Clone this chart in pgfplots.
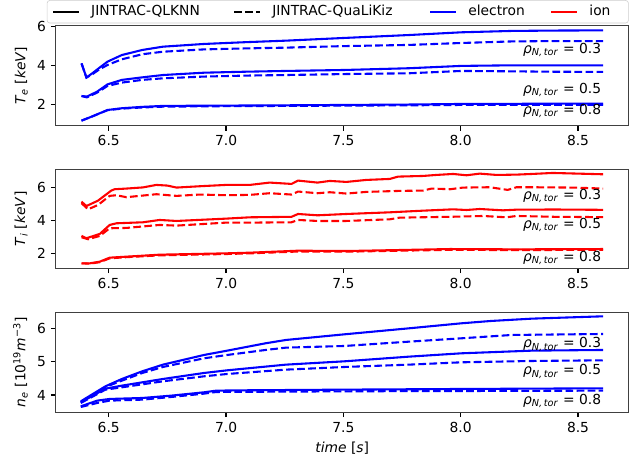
\documentclass[border=0pt]{standalone}
\usepackage{fontspec}
\setmainfont{DejaVu Sans}
\usepackage{pgfplots}
\pgfplotsset{compat=1.18}
\definecolor{mblue}{rgb}{0,0,1}
\definecolor{mred}{rgb}{1,0,0}
\pgfplotsset{
  panel/.style={
    scale only axis, width=5.73in, height=1.0in,
    xmin=6.274, xmax=8.716,
    xtick={6.5,7,7.5,8,8.5}, xticklabels={6.5,7.0,7.5,8.0,8.5},
    tick align=outside, tick pos=left,
    major tick length=3.5bp,
    every tick/.style={black, line width=0.8bp},
    axis line style={black!75, line width=1bp},
    ticklabel style={font=\fontsize{10}{12}\selectfont},
    label style={font=\fontsize{10}{12}\selectfont},
    /pgf/number format/assume math mode=true,
  },
}
\tikzset{
  qlk/.style={line width=1.5bp},
  qlz/.style={line width=1.5bp, dash pattern=on 5.55bp off 2.4bp},
  rho/.style={anchor=east, font=\fontsize{10}{12}\selectfont, inner sep=0pt},
}
\newcommand{\rholab}[1]{\textit{ρ}\textsubscript{\textit{N,\,tor}} = #1}
\begin{document}
\begin{tikzpicture}
\path[use as bounding box] (0,0) rectangle (6.43in,-4.60in);
% ---------------- Panel 1: Te
\begin{axis}[panel, at={(0.557in,-0.257in)}, anchor=north west,
  ymin=0.90, ymax=6.05, ytick={2,4,6}, yticklabels={2,4,6},
  ylabel={\textit{T}\textsubscript{\textit{e}} [\textit{keV}]},
  legend columns=4,
  legend cell align=left,
  legend image code/.code={\draw[#1] (0in,0pt) -- (0.26in,0pt);},
  legend style={at={(1,1)}, anchor=south east, yshift=0.024in,
    draw=black!20, rounded corners=2bp, fill=white,
    inner xsep=0.05in, inner ysep=3.4pt, row sep=0pt,
    /tikz/every odd column/.append style={column sep=0.11in},
    /tikz/every even column/.append style={column sep=0pt},
    nodes={inner sep=0pt, text height=7.5pt, text depth=2pt, font=\fontsize{10}{12}\selectfont}},
]
\addlegendimage{black, qlk}
\addlegendentry{\makebox[1.42in][l]{JINTRAC-QLKNN}}
\addlegendimage{black, qlz}
\addlegendentry{\makebox[1.57in][l]{JINTRAC-QuaLiKiz}}
\addlegendimage{mblue, qlk}
\addlegendentry{\makebox[0.82in][l]{electron}}
\addlegendimage{mred, qlk}
\addlegendentry{\makebox[0.34in][l]{ion}}
% rho 0.3
\addplot[mblue, qlk, forget plot] coordinates {(6.384,4.11) (6.405,3.38) (6.43,3.6) (6.46,3.88) (6.495,4.2) (6.556,4.54) (6.643,4.80) (6.731,4.97) (6.906,5.11) (7.08,5.20) (7.255,5.28) (7.505,5.42) (7.78,5.57) (8.003,5.71) (8.217,5.78) (8.4,5.80) (8.607,5.81)};
\addplot[mblue, qlz, forget plot] coordinates {(6.384,4.11) (6.405,3.38) (6.43,3.55) (6.46,3.8) (6.495,4.03) (6.556,4.32) (6.643,4.58) (6.731,4.71) (6.906,4.83) (7.08,4.88) (7.255,4.92) (7.505,5.0) (7.78,5.06) (8.003,5.16) (8.217,5.24) (8.4,5.26) (8.607,5.26)};
% rho 0.5
\addplot[mblue, qlk, forget plot] coordinates {(6.384,2.43) (6.407,2.40) (6.45,2.65) (6.495,3.03) (6.556,3.26) (6.643,3.39) (6.731,3.51) (6.906,3.63) (7.08,3.68) (7.255,3.72) (7.505,3.77) (7.78,3.86) (8.003,3.98) (8.217,4.01) (8.607,4.01)};
\addplot[mblue, qlz, forget plot] coordinates {(6.384,2.43) (6.407,2.36) (6.45,2.6) (6.495,2.95) (6.556,3.12) (6.643,3.26) (6.731,3.34) (6.906,3.43) (7.08,3.48) (7.255,3.51) (7.505,3.56) (7.78,3.6) (8.003,3.72) (8.217,3.70) (8.4,3.68) (8.607,3.67)};
% rho 0.8
\addplot[mblue, qlk, forget plot] coordinates {(6.384,1.16) (6.434,1.4) (6.495,1.71) (6.556,1.8) (6.643,1.87) (6.731,1.92) (6.906,1.93) (7.255,1.95) (7.78,1.99) (8.003,2.02) (8.607,2.04)};
\addplot[mblue, qlz, forget plot] coordinates {(6.384,1.16) (6.434,1.4) (6.495,1.70) (6.556,1.78) (6.643,1.84) (6.731,1.88) (6.906,1.90) (7.255,1.92) (7.78,1.95) (8.003,1.97) (8.607,1.98)};
\node[rho] at (axis cs:8.6,4.80) {\rholab{0.3}};
\node[rho] at (axis cs:8.6,2.74) {\rholab{0.5}};
\node[rho] at (axis cs:8.6,1.66) {\rholab{0.8}};
\end{axis}
% ---------------- Panel 2: Ti
\begin{axis}[panel, at={(0.557in,-1.693in)}, anchor=north west, height=0.99in,
  ymin=1.12, ymax=7.08, ytick={2,4,6}, yticklabels={2,4,6},
  ylabel={\textit{T}\textsubscript{\textit{i}} [\textit{keV}]},
]
\addplot[mred, qlk, forget plot] coordinates {(6.384,5.13) (6.405,4.87) (6.454,5.19) (6.511,5.8) (6.525,5.88) (6.575,5.92) (6.646,5.99) (6.703,6.14) (6.75,6.1) (6.789,5.98) (6.888,6.06) (7.0,6.14) (7.101,6.14) (7.186,6.28) (7.279,6.2) (7.307,6.4) (7.39,6.28) (7.442,6.38) (7.513,6.32) (7.598,6.44) (7.698,6.5) (7.733,6.64) (7.84,6.68) (7.896,6.74) (7.968,6.8) (8.025,6.72) (8.081,6.82) (8.153,6.74) (8.238,6.76) (8.304,6.8) (8.392,6.86) (8.5,6.82) (8.607,6.78)};
\addplot[mred, qlz, forget plot] coordinates {(6.384,5.04) (6.412,4.67) (6.454,4.93) (6.504,5.48) (6.533,5.52) (6.575,5.4) (6.632,5.48) (6.703,5.58) (6.789,5.48) (6.888,5.56) (7.0,5.52) (7.101,5.54) (7.186,5.64) (7.279,5.56) (7.307,5.74) (7.39,5.64) (7.442,5.7) (7.513,5.62) (7.598,5.72) (7.74,5.78) (7.84,5.8) (7.876,5.92) (7.955,5.88) (8.01,5.98) (8.124,6.0) (8.2,5.84) (8.238,6.0) (8.304,6.0) (8.479,5.98) (8.607,5.92)};
\addplot[mred, qlk, forget plot] coordinates {(6.384,3.07) (6.405,2.93) (6.462,3.19) (6.504,3.73) (6.533,3.83) (6.646,3.89) (6.717,4.03) (6.789,3.97) (7.0,4.11) (7.101,4.19) (7.279,4.22) (7.307,4.39) (7.39,4.31) (7.513,4.39) (7.698,4.49) (7.84,4.59) (7.968,4.67) (8.025,4.63) (8.081,4.69) (8.18,4.61) (8.238,4.65) (8.4,4.66) (8.607,4.64)};
\addplot[mred, qlz, forget plot] coordinates {(6.384,2.99) (6.412,2.87) (6.462,3.07) (6.504,3.53) (6.575,3.55) (6.717,3.73) (6.789,3.69) (7.0,3.87) (7.101,3.87) (7.279,3.89) (7.307,4.03) (7.39,3.97) (7.513,3.97) (7.698,4.07) (7.74,4.17) (7.955,4.22) (8.095,4.27) (8.195,4.19) (8.238,4.27) (8.4,4.22) (8.607,4.2)};
\addplot[mred, qlk, forget plot] coordinates {(6.384,1.42) (6.42,1.42) (6.462,1.52) (6.504,1.76) (6.575,1.82) (6.717,1.94) (7.0,2.02) (7.101,2.06) (7.307,2.18) (7.513,2.16) (7.74,2.22) (7.955,2.28) (8.238,2.26) (8.607,2.28)};
\addplot[mred, qlz, forget plot] coordinates {(6.384,1.42) (6.42,1.40) (6.462,1.49) (6.504,1.72) (6.575,1.79) (6.717,1.90) (7.0,1.98) (7.101,2.02) (7.307,2.13) (7.513,2.12) (7.74,2.18) (7.955,2.23) (8.238,2.22) (8.607,2.23)};
\node[rho] at (axis cs:8.6,5.48) {\rholab{0.3}};
\node[rho] at (axis cs:8.6,3.74) {\rholab{0.5}};
\node[rho] at (axis cs:8.6,1.74) {\rholab{0.8}};
\end{axis}
% ---------------- Panel 3: ne
\begin{axis}[panel, at={(0.557in,-3.123in)}, anchor=north west,
  ymin=3.48, ymax=6.48, ytick={4,5,6}, yticklabels={4,5,6},
  ylabel={\textit{n}\textsubscript{\textit{e}} [10\textsuperscript{19}\textit{m}\textsuperscript{−3}]},
  xlabel={\textit{time} [\textit{s}]},
]
\addplot[mblue, qlk, forget plot] coordinates {(6.381,3.81) (6.486,4.26) (6.556,4.48) (6.643,4.71) (6.731,4.91) (6.906,5.2) (7.005,5.33) (7.168,5.55) (7.255,5.65) (7.505,5.82) (7.78,6.0) (8.003,6.15) (8.129,6.22) (8.304,6.29) (8.607,6.36)};
\addplot[mblue, qlz, forget plot] coordinates {(6.381,3.78) (6.486,4.24) (6.556,4.43) (6.643,4.66) (6.731,4.84) (6.906,5.1) (7.005,5.2) (7.168,5.35) (7.255,5.42) (7.505,5.47) (7.78,5.6) (8.003,5.70) (8.217,5.80) (8.607,5.83)};
\addplot[mblue, qlk, forget plot] coordinates {(6.381,3.78) (6.486,4.19) (6.556,4.28) (6.731,4.48) (6.906,4.66) (7.005,4.74) (7.255,4.91) (7.505,5.01) (7.78,5.15) (8.003,5.25) (8.304,5.33) (8.607,5.35)};
\addplot[mblue, qlz, forget plot] coordinates {(6.381,3.76) (6.486,4.16) (6.556,4.23) (6.731,4.41) (6.906,4.56) (7.005,4.63) (7.255,4.76) (7.505,4.84) (7.78,4.91) (8.003,4.98) (8.304,5.02) (8.607,5.04)};
\addplot[mblue, qlk, forget plot] coordinates {(6.381,3.66) (6.451,3.83) (6.503,3.88) (6.643,3.91) (6.766,3.98) (6.906,4.08) (6.958,4.13) (7.08,4.14) (7.505,4.16) (8.003,4.18) (8.607,4.2)};
\addplot[mblue, qlz, forget plot] coordinates {(6.381,3.64) (6.451,3.76) (6.503,3.83) (6.643,3.86) (6.766,3.94) (6.906,4.04) (6.958,4.09) (7.505,4.11) (8.607,4.13)};
\node[rho] at (axis cs:8.6,5.52) {\rholab{0.3}};
\node[rho] at (axis cs:8.6,4.71) {\rholab{0.5}};
\node[rho] at (axis cs:8.6,3.83) {\rholab{0.8}};
\end{axis}
\end{tikzpicture}
\end{document}
